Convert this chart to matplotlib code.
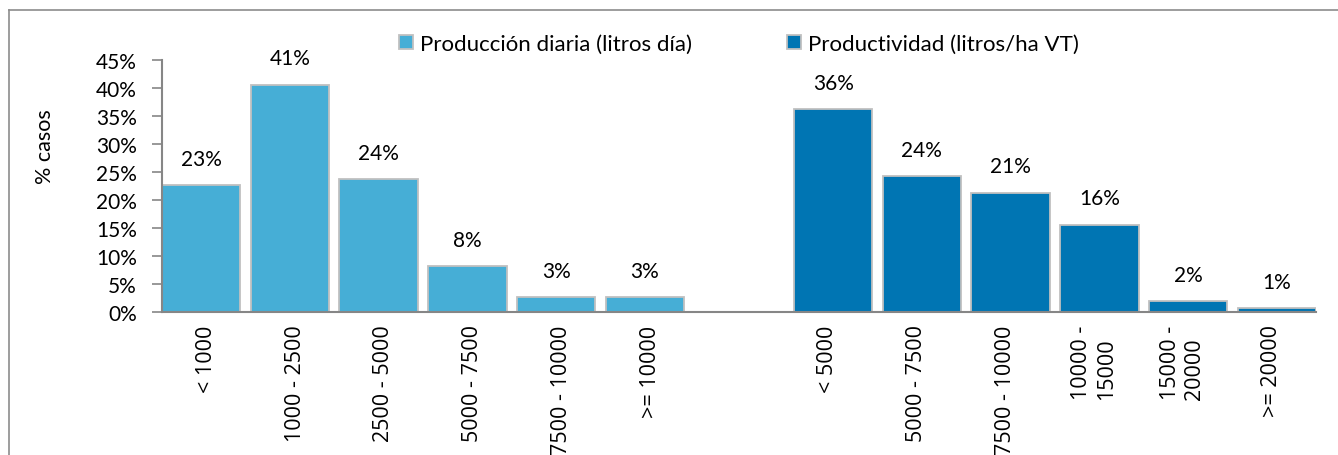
import numpy as np
import matplotlib.pyplot as plt
from matplotlib.lines import Line2D
from matplotlib.patches import Patch

# --- DATA ---
cats_diaria = ['< 1000', '1000 - 2500', '2500 - 5000', '5000 - 7500', '7500 - 10000', '>= 10000']
cats_prod = ['< 5000', '5000 - 7500', '7500 - 10000', '10000 -\n15000', '15000 -\n20000', '>= 20000']
vals_diaria = [22.6, 40.6, 23.7, 8.2, 2.6, 2.6]
vals_prod = [36.2, 24.3, 21.3, 15.6, 1.9, 0.7]
label_diaria = 'Producción diaria (litros día)'
label_prod = 'Productividad (litros/ha VT)'

COL_LIGHT = '#46AED6'
COL_DARK = '#0075B3'
EDGE = '#C0C0C0'
AXIS_COL = '#868686'

FONT = ['Lato', 'DejaVu Sans']
TICK_FONT = ['Open Sans', 'DejaVu Sans']

# 13 category slots: 6 + empty + 6
all_cats = cats_diaria + [''] + cats_prod
x_light = np.arange(len(cats_diaria))
x_dark = np.arange(len(cats_prod)) + len(cats_diaria) + 1
shift = 0.06
width = 0.885

fig = plt.figure(figsize=(13.38, 4.56), dpi=100)
ax = fig.add_axes([162 / 1338, 1 - 313 / 456, (1316 - 162) / 1338, (313 - 61) / 456])

bars1 = ax.bar(x_light - shift, vals_diaria, width=width, color=COL_LIGHT,
               edgecolor=EDGE, linewidth=1.3, zorder=2)
bars2 = ax.bar(x_dark + shift, vals_prod, width=width, color=COL_DARK,
               edgecolor=EDGE, linewidth=1.3, zorder=2)

# value labels above bars
for bars, vals in [(bars1, vals_diaria), (bars2, vals_prod)]:
    for b, v in zip(bars, vals):
        ax.annotate(f'{v:.0f}%', (b.get_x() + b.get_width() / 2, v),
                    xytext=(0, 19), textcoords='offset points',
                    ha='center', va='center', fontsize=15, family=FONT)

ax.set_xlim(-0.5, len(all_cats) - 0.5)
ax.set_ylim(0, 45)
ax.set_yticks(np.arange(0, 46, 5))
ax.set_yticklabels([f'{t}%' for t in range(0, 46, 5)], family=FONT, fontsize=15)

ax.set_xticks(np.arange(len(all_cats)))
ax.set_xticklabels(all_cats, rotation=90, va='top', ha='center',
                   multialignment='left', family=TICK_FONT, fontsize=15.5)
ax.tick_params(axis='x', length=0, pad=9)
ax.tick_params(axis='y', length=7, color=AXIS_COL, width=1.2, pad=11)

for side in ['top', 'right']:
    ax.spines[side].set_visible(False)
for side in ['left', 'bottom']:
    ax.spines[side].set_color(AXIS_COL)
    ax.spines[side].set_linewidth(1.5)
    ax.spines[side].set_zorder(3)

ax.set_ylabel('% casos', family=FONT, fontsize=15.5)
ax.yaxis.set_label_coords(-0.093, 0.659)

# legend
handles = [Patch(facecolor=COL_LIGHT, edgecolor=EDGE, linewidth=1.3),
           Patch(facecolor=COL_DARK, edgecolor=EDGE, linewidth=1.3)]
fig.legend(handles, [label_diaria, label_prod], loc='center', ncol=2,
           bbox_to_anchor=(739 / 1338, 1 - 45 / 456), frameon=False,
           prop={'family': FONT, 'size': 16}, handlelength=0.63, handleheight=0.63,
           handletextpad=0.3, columnspacing=4.3)

# outer chart border (left and top)
fig.add_artist(Line2D([9 / 1338, 9 / 1338], [0, 1 - 11 / 456], color='#8C8C8C', lw=1.2,
                      transform=fig.transFigure))
fig.add_artist(Line2D([9 / 1338, 1], [1 - 11 / 456, 1 - 11 / 456], color='#8C8C8C', lw=1.2,
                      transform=fig.transFigure))

fig.savefig('out.png', dpi=100)
